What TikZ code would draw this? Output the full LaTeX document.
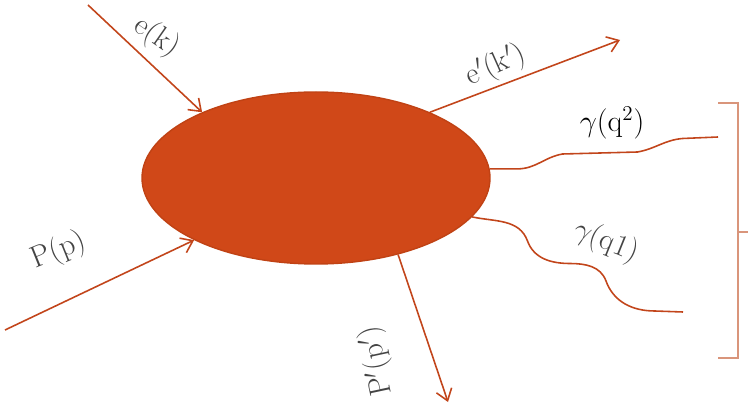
\documentclass[tikz,border=0pt]{standalone}
\usepackage{xcolor}
\usepackage{tikz}
\usetikzlibrary{arrows.meta,shapes.geometric}
\definecolor{blobred}{HTML}{D04818}
\definecolor{blobedge}{HTML}{C04214}
\definecolor{linered}{HTML}{C2451B}
\definecolor{bracketpink}{HTML}{D9957B}
\definecolor{labelgray}{HTML}{444444}
\tikzset{
  vertexblob/.style={
    ellipse,
    fill=blobred,
    draw=blobedge,
    thick,
    minimum width=6.96cm,
    minimum height=3.44cm,
    inner sep=0pt
  },
  particlearrow/.style={
    -{Straight Barb[length=2.2mm,width=3.2mm]},
    line width=0.9pt,
    draw=linered
  },
  photonline/.style={
    line width=0.9pt,
    draw=linered
  },
  bracketline/.style={
    line width=1.6pt,
    draw=bracketpink
  },
  momlabel/.style={
    font=\LARGE,
    text=labelgray,
    inner sep=1pt
  }
}

\begin{document}
\begin{tikzpicture}
    \useasboundingbox (0,0) rectangle (14.96,8.2);

    \node[vertexblob] (blob) at (6.32,4.64) {};

    % free ends of the external legs
    \coordinate (ein) at (1.76,8.10);
    \coordinate (eout) at (12.40,7.40);
    \coordinate (pin) at (0.10,1.60);
    \coordinate (pout) at (8.96,0.16);
    \coordinate (gtwoend) at (14.36,5.46);
    \coordinate (goneend) at (13.66,1.96);

    \draw[particlearrow] (ein) -- (blob.150);
    \draw[particlearrow] (blob.30) -- (eout);
    \draw[particlearrow] (pin) -- (blob.207);
    \draw[particlearrow] (blob.317) -- (pout);

    \draw[photonline] (blob.3) -- ++(0.55,0) to[out=0,in=190] (11.25,5.12)
        -- (12.75,5.16) to[out=10,in=185] (13.65,5.43) -- (gtwoend);
    \draw[photonline] (blob.346) to[out=-12,in=110] (10.55,3.38)
        to[out=-70,in=180] (11.40,2.93) to[out=0,in=110] (12.12,2.58)
        to[out=-70,in=180] (13.10,1.98) -- (goneend);

    \node[momlabel, rotate=-35] (ek) at (3.14,7.46) {e(k)};
    \node[momlabel, rotate=24] (ekp) at (9.92,6.88) {e$'$(k$'$)};
    \node[momlabel, rotate=22] (pp) at (1.18,3.18) {P(p)};
    \node[momlabel, rotate=102] (ppp) at (7.54,0.98) {P$'$(p$'$)};
    \node[momlabel, text=black] (gtwo) at (12.24,5.74) {$\gamma$(q$^2$)};
    \node[momlabel, rotate=-22] (gone) at (12.12,3.36) {$\gamma$(q1)};

    % bracket round the two photons
    \draw[bracketline] (14.36,6.14) -- (14.76,6.14) -- (14.76,1.04) -- (14.36,1.04);
    \draw[bracketline] (14.76,3.56) -- (14.96,3.56);
\end{tikzpicture}
\end{document}
